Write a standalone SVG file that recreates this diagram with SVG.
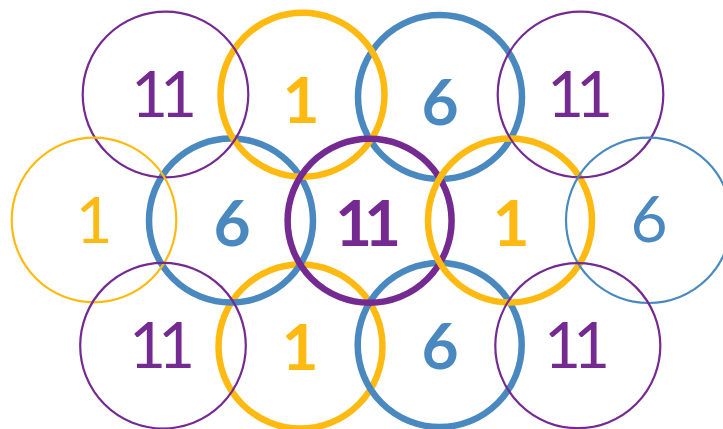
<svg xmlns="http://www.w3.org/2000/svg" width="723" height="429" viewBox="0 0 723 429">
<style>
circle{fill:none}
.thin{stroke-width:2.2}
.thick{stroke-width:6.5}
.p{stroke:#742A90}
.y{stroke:#FFBA12}
.b{stroke:#4A89BF}
text{font-family:Lato,"Liberation Sans",sans-serif;font-size:64px;text-anchor:middle}
.tp{fill:#742A90}
.ty{fill:#FFBA12}
.tb{fill:#4A89BF}
.n{font-weight:400}
.w{font-weight:700}
.ls{letter-spacing:-8px}
</style>
<rect width="723" height="429" fill="#fff"/>
<g id="yellow-r3"><circle class="thick y" cx="300.5" cy="346.5" r="82"/><text class="ty w" x="300" y="370">1</text></g>
<g id="blue-r2"><circle class="thick b" cx="231" cy="220.5" r="82"/><text class="tb w" x="232" y="246">6</text></g>
<g id="blue-r1"><circle class="thick b" cx="440" cy="97" r="82"/><text class="tb w" x="440" y="125">6</text></g>
<g id="yellow-r1"><circle class="thick y" cx="302.5" cy="94.7" r="82"/><text class="ty w" x="301" y="122.5">1</text></g>
<g id="blue-r3"><circle class="thick b" cx="439.7" cy="345" r="82"/><text class="tb w" x="440" y="369">6</text></g>
<g id="purple-center"><circle class="thick p" cx="369.6" cy="220.7" r="82"/><text class="tp w ls" x="364" y="246">11</text></g>
<g id="yellow-r2"><circle class="thick y" cx="510" cy="220.5" r="82"/><text class="ty w" x="511" y="246">1</text></g>
<g id="purple-r1-left"><circle class="thin p" cx="165.5" cy="94.5" r="82.8"/><text class="tp n ls" x="160" y="117">11</text></g>
<g id="purple-r1-right"><circle class="thin p" cx="580.5" cy="94.5" r="82.8"/><text class="tp n ls" x="576" y="117">11</text></g>
<g id="yellow-r2-left"><circle class="thin y" cx="94" cy="220" r="82.3"/><text class="ty n" x="94" y="243">1</text></g>
<g id="blue-r2-right"><circle class="thin b" cx="648.7" cy="220.3" r="82.7"/><text class="tb n" x="649" y="242">6</text></g>
<g id="purple-r3-left"><circle class="thin p" cx="163" cy="345.7" r="82.8"/><text class="tp n ls" x="158" y="368">11</text></g>
<g id="purple-r3-right"><circle class="thin p" cx="577.8" cy="345.7" r="82.5"/><text class="tp n ls" x="573" y="367.5">11</text></g>
<g id="connectors"/>
</svg>
